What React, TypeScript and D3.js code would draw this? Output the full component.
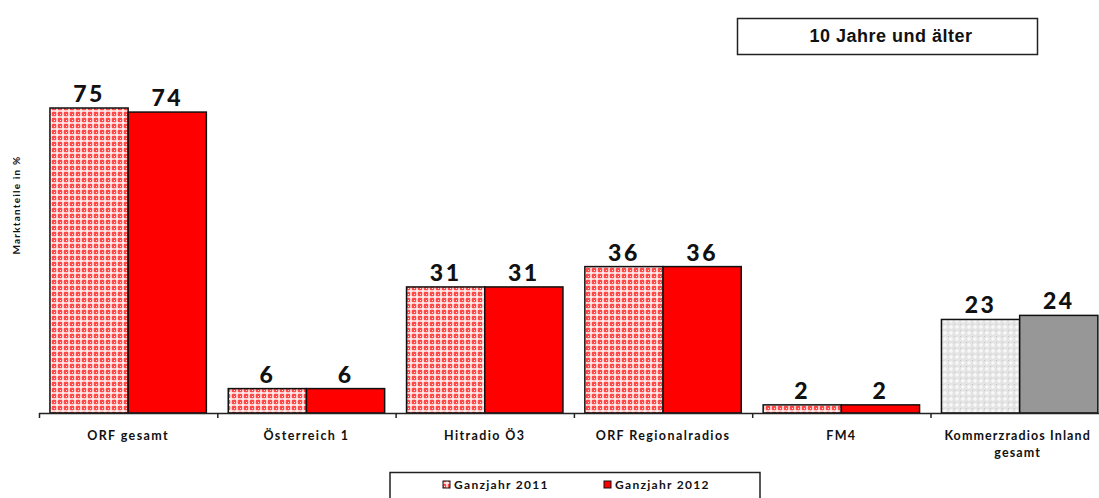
import React from "react";
import * as d3 from "d3";

const categories = [
  ["ORF gesamt"],
  ["Österreich 1"],
  ["Hitradio Ö3"],
  ["ORF Regionalradios"],
  ["FM4"],
  ["Kommerzradios Inland", "gesamt"],
];
const series = ["Ganzjahr 2011", "Ganzjahr 2012"];
const values2011 = [75, 6, 31, 36, 2, 23];
const values2012 = [74, 6, 31, 36, 2, 24];
const title = "10 Jahre und älter";
const yLabel = "Marktanteile in %";

const W = 1099;
const H = 498;

export default function App() {
  const catKeys = categories.map((c) => c.join(" "));
  const x = d3.scaleBand<string>().domain(catKeys).range([39, 39 + 6 * 178.3]).paddingInner(0).paddingOuter(0);
  const xs = d3.scaleBand<string>().domain(series).range([0, x.bandwidth()]).paddingInner(0).paddingOuter(0.14);
  const y = d3.scaleLinear().domain([0, 75]).range([413, 108]);

  const fillFor = (ci: number, si: number) => {
    const last = ci === categories.length - 1;
    if (si === 0) return last ? "url(#patGray)" : "url(#patRed)";
    return last ? "#979797" : "#ff0000";
  };

  const labelFont = "Lato, 'Open Sans', sans-serif";

  return (
    <svg width={W} height={H} style={{ position: "absolute", left: 0, top: 0, background: "#fff" }}>
      <defs>
        <pattern id="patRed" width="6" height="6" patternUnits="userSpaceOnUse">
          <rect width="6" height="6" fill="#ff4a4a" />
          <rect x="2" y="0" width="2" height="6" fill="#ffb0b0" />
          <rect x="0" y="2" width="6" height="2" fill="#ffb0b0" />
          <rect x="2.5" y="0.5" width="1" height="5" fill="#fff" />
          <rect x="0.5" y="2.5" width="5" height="1" fill="#fff" />
          <rect x="0" y="0" width="1" height="1" fill="#ffe0e0" />
        </pattern>
        <pattern id="patGray" width="6" height="6" patternUnits="userSpaceOnUse">
          <rect width="6" height="6" fill="#e4e4e4" />
          <rect x="2.5" y="1" width="1" height="4" fill="#fff" />
          <rect x="1" y="2.5" width="4" height="1" fill="#fff" />
          <rect x="0" y="0" width="1" height="1" fill="#c4c4c4" />
        </pattern>
      </defs>

      {/* title box */}
      <rect x={737.5} y={18.5} width={300} height={36} fill="#fff" stroke="#222" strokeWidth={1.5} />
      <text x={891} y={42} textAnchor="middle" fontFamily="'Liberation Sans', Arial, sans-serif" fontWeight="bold" fontSize={18} letterSpacing={0.5} fill="#111">
        {title}
      </text>

      {/* y label */}
      <text
        transform={`translate(20,205) rotate(-90)`}
        textAnchor="middle"
        fontFamily={labelFont}
        fontWeight="bold"
        fontSize={10}
        letterSpacing={1.2}
        fill="#111"
      >
        {yLabel}
      </text>

      {/* bars */}
      {catKeys.map((ck, ci) =>
        series.map((s, si) => {
          const v = si === 0 ? values2011[ci] : values2012[ci];
          const bx = (x(ck) as number) + (xs(s) as number);
          const by = y(v);
          return (
            <g key={ck + s}>
              <rect x={bx} y={by} width={xs.bandwidth()} height={y(0) - by} fill={fillFor(ci, si)} stroke="#111" strokeWidth={1.5} />
              <text
                x={bx + xs.bandwidth() / 2}
                y={by - 6}
                textAnchor="middle"
                fontFamily={labelFont}
                fontWeight="900"
                fontSize={23}
                letterSpacing={2.5}
                fill="#111"
              >
                {v}
              </text>
            </g>
          );
        })
      )}

      {/* x axis */}
      <line x1={39} x2={W} y1={413.5} y2={413.5} stroke="#222" strokeWidth={1.5} />
      {catKeys.map((ck) => (
        <line key={"t" + ck} x1={(x(ck) as number) + 0.5} x2={(x(ck) as number) + 0.5} y1={413} y2={418} stroke="#222" strokeWidth={1.5} />
      ))}
      {categories.map((lines, ci) => (
        <text
          key={"l" + ci}
          textAnchor="middle"
          fontFamily={labelFont}
          fontWeight="bold"
          fontSize={12.5}
          letterSpacing={ci === 5 ? 1.1 : 1.4}
          fill="#111"
        >
          {lines.map((ln, li) => (
            <tspan key={li} x={(x(catKeys[ci]) as number) + x.bandwidth() / 2 - (ci === 5 ? 2 : 0)} y={440 + li * 17}>
              {ln}
            </tspan>
          ))}
        </text>
      ))}

      {/* legend */}
      <rect x={390} y={472.5} width={370} height={40} fill="#fff" stroke="#222" strokeWidth={1.5} />
      {series.map((s, si) => {
        const lx = si === 0 ? 443 : 604;
        return (
          <g key={"lg" + s}>
            <rect x={lx} y={481} width={7} height={7} fill={si === 0 ? "url(#patRed)" : "#ff0000"} stroke="#111" strokeWidth={1} />
            <text x={lx + 11} y={489} fontFamily={labelFont} fontWeight="bold" fontSize={12} letterSpacing={1.3} fill="#111">
              {s}
            </text>
          </g>
        );
      })}
    </svg>
  );
}
